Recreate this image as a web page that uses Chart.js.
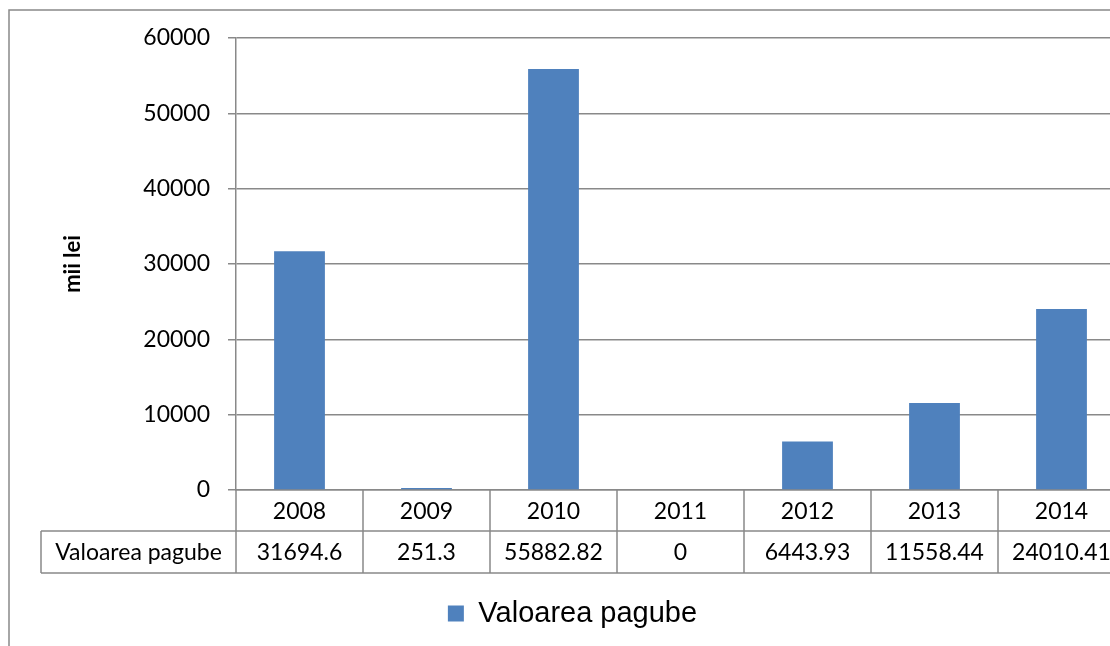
<!DOCTYPE html>
<html>
<head>
<meta charset="utf-8">
<script src="https://cdn.jsdelivr.net/npm/chart.js@4/dist/chart.umd.min.js"></script>
<style>
  html, body { margin: 0; padding: 0; background: #fff; overflow: hidden; }
  #wrap { position: relative; width: 1150px; height: 646px; }
</style>
</head>
<body>
<div id="wrap"><canvas id="lossChart" width="1150" height="646"></canvas></div>
<script>
// data
const years = ['2008', '2009', '2010', '2011', '2012', '2013', '2014'];
const lossValues = [31694.6, 251.3, 55882.82, 0, 6443.93, 11558.44, 24010.41];
const lossLabels = ['31694.6', '251.3', '55882.82', '0', '6443.93', '11558.44', '24010.41'];
const seriesName = 'Valoarea pagube';
const axisTitle = 'mii lei';
const yTicks = [0, 10000, 20000, 30000, 40000, 50000, 60000];

const lineGray = '#898989';
const barBlue = '#4F81BD';
const tableFont = '23px Lato';

// draws the data table under the x axis plus the outer chart frame
const dataTablePlugin = {
    id: 'dataTable',
    afterDraw(chart) {
        const ctx = chart.ctx;
        const area = chart.chartArea;
        const xScale = chart.scales.x;
        const n = years.length;
        const cw = (area.right - area.left) / n;
        const row1Bottom = area.bottom + 41;
        const row2Bottom = area.bottom + 83;
        const labelLeft = 41;

        ctx.save();
        ctx.strokeStyle = lineGray;
        ctx.lineWidth = 1.5;

        // outer frame
        ctx.strokeRect(9, 10, chart.width + 20, chart.height + 20);

        // horizontal rules
        ctx.beginPath();
        ctx.moveTo(labelLeft, row1Bottom);
        ctx.lineTo(area.right, row1Bottom);
        ctx.moveTo(labelLeft, row2Bottom);
        ctx.lineTo(area.right, row2Bottom);
        // vertical rules
        for (let i = 0; i <= n; i++) {
            const bx = area.left + i * cw;
            ctx.moveTo(bx, area.bottom);
            ctx.lineTo(bx, row2Bottom);
        }
        ctx.moveTo(labelLeft, row1Bottom);
        ctx.lineTo(labelLeft, row2Bottom);
        ctx.stroke();

        // text
        ctx.fillStyle = '#000';
        ctx.font = tableFont;
        ctx.textAlign = 'center';
        ctx.textBaseline = 'middle';
        for (let i = 0; i < n; i++) {
            const cx = xScale.getPixelForValue(i);
            ctx.fillText(years[i], cx, (area.bottom + row1Bottom) / 2 + 1);
            ctx.fillText(lossLabels[i], cx, (row1Bottom + row2Bottom) / 2 + 1);
        }
        ctx.fillText(seriesName, (labelLeft + area.left) / 2, (row1Bottom + row2Bottom) / 2 + 1);
        ctx.restore();
    }
};

const ctx = document.getElementById('lossChart').getContext('2d');

new Chart(ctx, {
    type: 'bar',
    data: {
        labels: years,
        datasets: [
            {
                label: seriesName,
                data: lossValues,
                backgroundColor: barBlue,
                borderWidth: 0,
                categoryPercentage: 1.0,
                barPercentage: 0.4
            }
        ]
    },
    options: {
        responsive: false,
        animation: false,
        layout: {
            padding: { top: 38, right: 25, bottom: 8, left: 20 }
        },
        scales: {
            x: {
                offset: true,
                grid: { display: false },
                border: { display: true, color: lineGray, width: 1.5 },
                ticks: { display: false },
                afterFit(scale) { scale.height = 101; }
            },
            y: {
                min: 0,
                max: 60000,
                afterBuildTicks(scale) {
                    scale.ticks = yTicks.map(v => ({ value: v }));
                },
                afterFit(scale) { scale.width = 216; },
                grid: {
                    color: lineGray,
                    lineWidth: 1.5,
                    drawTicks: true,
                    tickLength: 8,
                    tickColor: lineGray
                },
                border: { display: true, color: lineGray, width: 1.5 },
                ticks: {
                    color: '#000',
                    padding: 18,
                    font: { family: 'Lato', size: 23 },
                    callback: v => String(v)
                },
                title: {
                    display: true,
                    text: axisTitle,
                    color: '#000',
                    font: { family: 'Lato', size: 22, weight: 'bold' },
                    padding: { top: 40, bottom: 0 }
                }
            }
        },
        plugins: {
            legend: {
                display: true,
                position: 'bottom',
                labels: {
                    color: '#000',
                    boxWidth: 16,
                    boxHeight: 16,
                    padding: 8,
                    font: { family: 'Arial, Liberation Sans', size: 29 }
                }
            },
            tooltip: { enabled: false }
        }
    },
    plugins: [dataTablePlugin]
});
</script>
</body>
</html>
